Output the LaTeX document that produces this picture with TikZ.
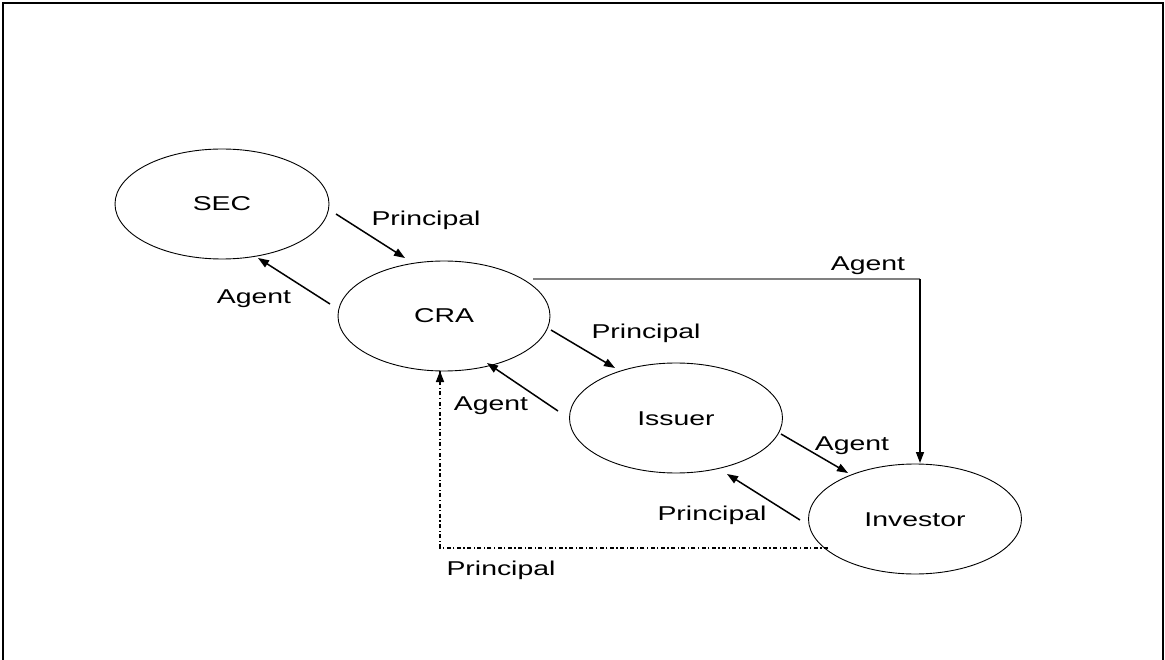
\documentclass[tikz,border=0pt]{standalone}
\usepackage{fontspec}
\setmainfont{Liberation Sans}
\usetikzlibrary{arrows.meta,shapes.geometric}
\newcommand{\stretchtxt}[1]{\scalebox{1.42}[1]{#1}}
\begin{document}
\begin{tikzpicture}[x=1pt,y=-1pt,
  ent/.style={draw, ellipse, line width=0.9pt, minimum width=#1, minimum height=110pt, inner sep=0pt},
  lbl/.style={anchor=base, inner sep=0pt, font=\fontsize{20}{24}\selectfont},
  arr/.style={line width=1.5pt, -{Triangle[length=11pt,width=8pt]}},
  frame/.style={line width=2.5pt}]
\useasboundingbox (0,0) rectangle (1165,660);
\draw[frame] (3,662) -- (3,3) -- (1163,3) -- (1163,662);
% entities
\node[ent=214pt] (sec) at (222,204) {};
\node[ent=212pt] (cra) at (444,316) {};
\node[ent=213pt] (iss) at (676,418) {};
\node[ent=213pt] (inv) at (915,519) {};
\node[lbl] at (222,211) {\stretchtxt{SEC}};
\node[lbl] at (444,323) {\stretchtxt{CRA}};
\node[lbl] at (676,425) {\stretchtxt{Issuer}};
\node[lbl] at (915,526) {\stretchtxt{Investor}};
% connector end points
\coordinate (a1) at (336,214); \coordinate (a2) at (405,258);
\coordinate (b1) at (330,304); \coordinate (b2) at (258,258);
\coordinate (c1) at (551,330); \coordinate (c2) at (615,368);
\coordinate (d1) at (558,411); \coordinate (d2) at (487,363);
\coordinate (e1) at (781,434); \coordinate (e2) at (848,473);
\coordinate (f1) at (800,520); \coordinate (f2) at (727,474);
\coordinate (g1) at (533,279); \coordinate (g2) at (920,279); \coordinate (g3) at (920,463);
\coordinate (h1) at (828,548); \coordinate (h2) at (440,548); \coordinate (h3) at (440,371);
\draw[arr] (a1) -- (a2);
\draw[arr] (b1) -- (b2);
\draw[arr] (c1) -- (c2);
\draw[arr] (d1) -- (d2);
\draw[arr] (e1) -- (e2);
\draw[arr] (f1) -- (f2);
\draw[line width=2pt, gray] (g1) -- (g2);
\draw[arr] (g2) -- (g3);
\draw[line width=1.5pt, dash pattern=on 4pt off 2.5pt on 1.2pt off 2.5pt] (h1) -- (h2) -- (h3);
\draw[arr, dash pattern=on 4pt off 2.5pt on 1.2pt off 2.5pt] (440,380) -- (h3);
% labels
\node[lbl] at (426,226) {\stretchtxt{Principal}};
\node[lbl] at (254,304) {\stretchtxt{Agent}};
\node[lbl] at (868,271) {\stretchtxt{Agent}};
\node[lbl] at (646,338) {\stretchtxt{Principal}};
\node[lbl] at (491,410) {\stretchtxt{Agent}};
\node[lbl] at (852,450) {\stretchtxt{Agent}};
\node[lbl] at (712,520) {\stretchtxt{Principal}};
\node[lbl] at (501,575) {\stretchtxt{Principal}};
\end{tikzpicture}
\end{document}
